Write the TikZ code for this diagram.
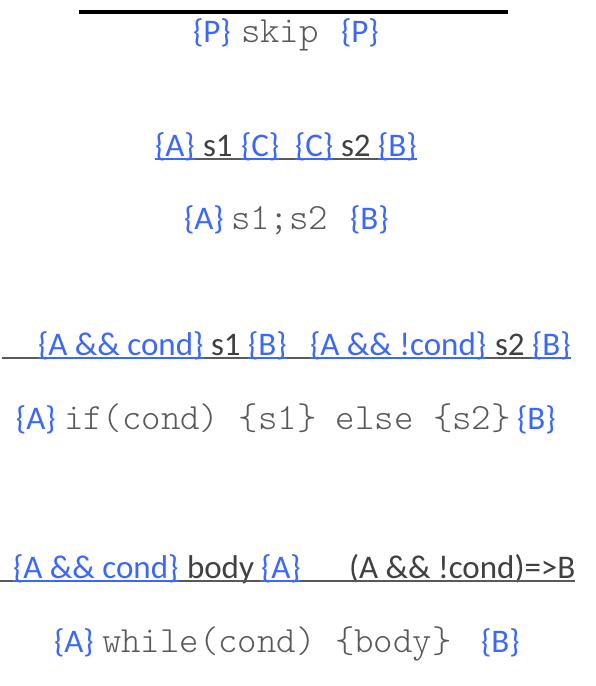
\documentclass[tikz,border=0pt]{standalone}
\usepackage{fontspec}
\setmainfont{Carlito}
\newfontfamily\codefont{lmmonolt10-regular.otf}
\definecolor{asn}{RGB}{59,104,250}
\definecolor{txt}{RGB}{64,64,64}
\definecolor{code}{RGB}{89,89,89}
\begin{document}
\begin{tikzpicture}[x=1pt,y=-1pt,
  every node/.style={inner sep=0pt, outer sep=0pt, anchor=base west},
  assert/.style={text=asn, font=\fontsize{33}{33}\selectfont},
  plain/.style={text=txt, font=\fontsize{33}{33}\selectfont},
  prog/.style={text=code, font=\codefont\fontsize{37}{37}\selectfont},
  barline/.style={line width=2pt, draw=code},
  assertline/.style={line width=2pt, draw=asn}]
\useasboundingbox (0,0) rectangle (596,686);

% skip axiom
\coordinate (topL) at (79,12);
\coordinate (topR) at (508,12);
\draw[line width=4pt] (topL) -- (topR);
\node[assert] (p1) at (193,42) {\{P\}};
\node[prog]   (p2) at (241,42) {skip};
\node[assert] (p3) at (341,42) {\{P\}};

% sequence rule: premises
\node[assert] (s1) at (155,156) {\{A\}};
\node[plain]  (s2) at (203,156) {s1};
\node[assert] (s3) at (241,156) {\{C\}};
\node[assert] (s4) at (295,156) {\{C\}};
\node[plain]  (s5) at (341,156) {s2};
\node[assert] (s6) at (378,156) {\{B\}};
\draw[barline] ([yshift=-3pt]s1.base west) -- ([yshift=-3pt]s6.base east);
\foreach \n in {s1,s3,s4,s6}
  \draw[assertline] ([yshift=-3pt]\n.base west) -- ([yshift=-3pt]\n.base east);
% sequence rule: conclusion
\node[assert] (q1) at (184,229) {\{A\}};
\node[prog]   (q2) at (231,229) {s1;s2};
\node[assert] (q3) at (350,229) {\{B\}};

% conditional rule: premises
\coordinate (iL) at (2,355);
\node[assert] (i1) at (38,355)  {\{A \&\& cond\}};
\node[plain]  (i2) at (211,355) {s1};
\node[assert] (i3) at (248,355) {\{B\}};
\node[assert] (i4) at (310,355) {\{A \&\& !cond\}};
\node[plain]  (i5) at (495,355) {s2};
\node[assert] (i6) at (532,355) {\{B\}};
\draw[barline] ([yshift=-3pt]iL) -- ([yshift=-3pt]i6.base east);
\foreach \n in {i1,i3,i4,i6}
  \draw[assertline] ([yshift=-3pt]\n.base west) -- ([yshift=-3pt]\n.base east);
% conditional rule: conclusion
\node[assert] (c1) at (16,429)  {\{A\}};
\node[prog]   (c2) at (64,429)  {if(cond) \{s1\} else \{s2\}};
\node[assert] (c3) at (517,429) {\{B\}};

% loop rule: premises
\coordinate (wL) at (0,578);
\node[assert] (w1) at (13,578)  {\{A \&\& cond\}};
\node[plain]  (w2) at (187,578) {body};
\node[assert] (w3) at (261,578) {\{A\}};
\node[plain]  (w4) at (349,578) {(A \&\& !cond)=>B};
\draw[barline] ([yshift=-3pt]wL) -- ([yshift=-3pt]w4.base east);
\foreach \n in {w1,w3}
  \draw[assertline] ([yshift=-3pt]\n.base west) -- ([yshift=-3pt]\n.base east);
% loop rule: conclusion
\node[assert] (l1) at (54,652)  {\{A\}};
\node[prog]   (l2) at (102,652) {while(cond) \{body\}};
\node[assert] (l3) at (481,652) {\{B\}};
\end{tikzpicture}
\end{document}
